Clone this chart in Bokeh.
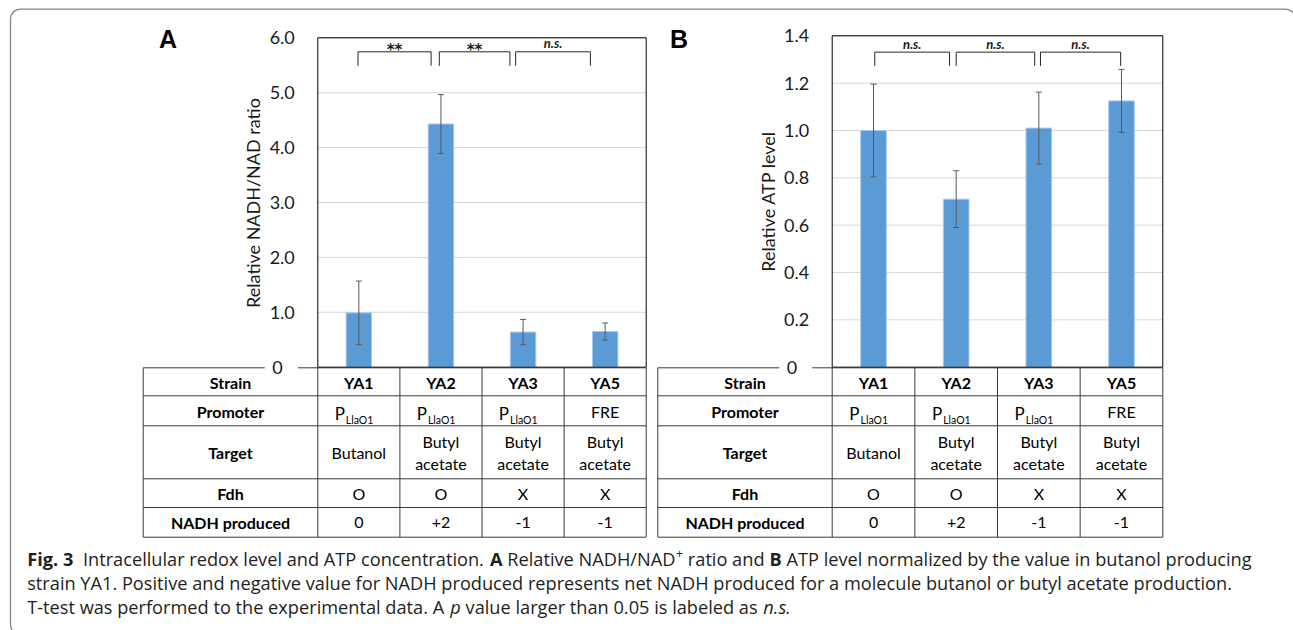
import math, os, subprocess
from bokeh.plotting import figure
from bokeh.models import Range1d
from bokeh.core.properties import value
from bokeh.embed import file_html
from bokeh.resources import INLINE

# ---------------- data ----------------
strains = ["YA1", "YA2", "YA3", "YA5"]
nadh_ratio = [0.99, 4.43, 0.64, 0.65]
nadh_sd = [0.58, 0.535, 0.23, 0.155]
atp_level = [1.00, 0.71, 1.01, 1.125]
atp_sd = [0.196, 0.12, 0.152, 0.133]
nadh_ticks = [0, 1, 2, 3, 4, 5, 6]
nadh_tick_labels = ["0", "1.0", "2.0", "3.0", "4.0", "5.0", "6.0"]
atp_ticks = [0, 0.2, 0.4, 0.6, 0.8, 1.0, 1.2, 1.4]
atp_tick_labels = ["0", "0.2", "0.4", "0.6", "0.8", "1.0", "1.2", "1.4"]
nadh_significance = ["**", "**", "n.s."]
atp_significance = ["n.s.", "n.s.", "n.s."]
row_headers = ["Strain", "Promoter", "Target", "Fdh", "NADH produced"]
promoter = ["P", "P", "P", "FRE"]
promoter_sub = ["LlaO1", "LlaO1", "LlaO1", ""]
target = ["Butanol", "Butyl acetate", "Butyl acetate", "Butyl acetate"]
fdh = ["O", "O", "X", "X"]
nadh_produced = ["0", "+2", "-1", "-1"]

caption_lines = [
    [("Fig. 3", "bold"), ("  ", "gap"), ("Intracellular redox level and ATP concentration.", "normal"), (" ", "gap"),
     ("A", "bold"), (" ", "gap"), ("Relative NADH/NAD", "normal"), ("+", "sup"), (" ", "gap"),
     ("ratio and", "normal"), (" ", "gap"), ("B", "bold"), (" ", "gap"),
     ("ATP level normalized by the value in butanol producing", "normal")],
    [("strain YA1. Positive and negative value for NADH produced represents net NADH produced for a molecule butanol or butyl acetate production.", "normal")],
    [("T-test was performed to the experimental data. A", "normal"), (" ", "gap"), ("p", "italic"), (" ", "gap"),
     ("value larger than 0.05 is labeled as", "normal"), (" ", "gap"), ("n.s.", "italic")],
]

# ---------------- layout (reference pixel coordinates) ----------------
W, H = 1293, 630
OX, OY = 0, 0
FRAME_A = (317.3, 645.7, 37.3, 366.7)   # left, right, top, bottom
FRAME_B = (831.7, 1162.3, 35.3, 366.7)
TABLE_LEFT_A, TABLE_LEFT_B = 142.7, 657.3
ROW_EDGES = [367.3, 395.3, 425.3, 478.3, 507.0, 536.7]
BRACKETS_A = dict(x=[(0.49, 1.38), (1.48, 2.34), (2.41, 3.32)], top=5.745, leg=5.49)
BRACKETS_B = dict(x=[(0.515, 1.42), (1.50, 2.45), (2.52, 3.49)], top=1.331, leg=1.273)

CHART_FONT = "Lato"
CAP_FONT = "Open Sans"
BLUE = "#5B9BD5"
TXT = "#1a1a1a"
TABLE_LINE = "#3a3a3a"

p = figure(width=W, height=H, x_range=Range1d(OX, OX + W), y_range=Range1d(OY + H, OY),
           output_backend="svg", toolbar_location=None, min_border=0,
           x_axis_location=None, y_axis_location=None,
           outline_line_color=None, background_fill_color="white", border_fill_color="white")
p.grid.visible = False

# outer rounded frame
p.quad(left=[10], right=[1295], top=[8.6], bottom=[634], border_radius=10,
       fill_color=None, line_color="#858585", line_width=1.3)


def draw_panel(name, frame, vals, sds, ticks, tick_labels, sig, br, ytitle, ytitle_xy,
               letter, letter_xy, table_left):
    L, R, T, B = frame
    n = len(strains)
    ymax = ticks[-1]
    kx = (R - L) / n
    ky = (B - T) / ymax
    p.extra_x_ranges[name] = Range1d(-(L - OX) / kx, n + (OX + W - R) / kx)
    p.extra_y_ranges[name] = Range1d(-(OY + H - B) / ky, (B - OY) / ky)
    rn = dict(x_range_name=name, y_range_name=name)
    xc = [i + 0.5 for i in range(n)]

    # grid lines
    p.segment(x0=[0] * len(ticks), x1=[n] * len(ticks), y0=ticks, y1=ticks,
              line_color="#D9D9D9", line_width=1, **rn)
    # bars
    p.vbar(x=xc, top=vals, bottom=0, width=0.31, fill_color=BLUE,
           line_color="#A8C8EC", line_width=1, **rn)
    # error bars
    lo = [v - s for v, s in zip(vals, sds)]
    hi = [v + s for v, s in zip(vals, sds)]
    p.segment(x0=xc, x1=xc, y0=lo, y1=hi, line_color="#595959", line_width=1, **rn)
    cap = 3.0 / kx
    p.segment(x0=[x - cap for x in xc] * 2, x1=[x + cap for x in xc] * 2, y0=lo + hi, y1=lo + hi,
              line_color="#595959", line_width=1, **rn)
    # plot area box
    p.quad(left=[0], right=[n], bottom=[0], top=[ymax], fill_color=None,
           line_color="black", line_width=1, **rn)

    # y tick labels
    offs = [-12 if lab == "0" else 0 for lab in tick_labels]
    p.text(x=[L - 23] * len(ticks), y=ticks, text=tick_labels, x_offset=offs,
           y_range_name=name, text_align="right", text_baseline="middle",
           text_font=value(CHART_FONT), text_font_size="18px", text_color=TXT)
    # y title
    p.text(x=[ytitle_xy[0]], y=[ytitle_xy[1]], text=[ytitle], angle=math.pi / 2,
           text_align="center", text_baseline="middle",
           text_font=value(CHART_FONT), text_font_size="18px", text_color=TXT)
    # panel letter
    p.text(x=[letter_xy[0]], y=[letter_xy[1]], text=[letter], text_align="center",
           text_baseline="middle", text_font=value("Liberation Sans"), text_font_style="bold",
           text_font_size="25px", text_color="black")

    # significance brackets
    xs, ys, mx = [], [], []
    for (a, b) in br["x"]:
        xs.append([a, a, b, b])
        ys.append([br["leg"], br["top"], br["top"], br["leg"]])
        mx.append((a + b) / 2)
    p.multi_line(xs=xs, ys=ys, line_color="#262626", line_width=1, **rn)
    star = [i for i, s in enumerate(sig) if "*" in s]
    other = [i for i, s in enumerate(sig) if "*" not in s]
    if star:
        p.text(x=[mx[i] for i in star], y=[br["top"]] * len(star), text=[sig[i] for i in star],
               y_offset=-1.5, text_align="center", text_baseline="middle",
               text_font=value("DejaVu Sans"), text_font_style="bold italic",
               text_font_size="15px", text_color=TXT, **rn)
    if other:
        p.text(x=[mx[i] for i in other], y=[br["top"]] * len(other), text=[sig[i] for i in other],
               y_offset=-8.5, text_align="center", text_baseline="middle",
               text_font=value(CHART_FONT), text_font_style="bold italic",
               text_font_size="13px", text_color=TXT, **rn)

    # ---------------- table ----------------
    top = ROW_EDGES[0]
    zero_gap = (L - 53, L - 20)
    p.segment(x0=[table_left, zero_gap[1]], x1=[zero_gap[0], R], y0=[top, top], y1=[top, top],
              line_color=TABLE_LINE, line_width=1)
    rows = ROW_EDGES[1:]
    p.segment(x0=[table_left] * len(rows), x1=[R] * len(rows), y0=rows, y1=rows,
              line_color=TABLE_LINE, line_width=1)
    p.segment(x0=[table_left], x1=[table_left], y0=[ROW_EDGES[0]], y1=[ROW_EDGES[-1]],
              line_color=TABLE_LINE, line_width=1)
    p.segment(x0=list(range(n + 1)), x1=list(range(n + 1)), y0=[ROW_EDGES[0]] * (n + 1),
              y1=[ROW_EDGES[-1]] * (n + 1), x_range_name=name, line_color=TABLE_LINE, line_width=1)

    centers = [(ROW_EDGES[i] + ROW_EDGES[i + 1]) / 2 + 0.5 for i in range(len(ROW_EDGES) - 1)]
    hx = (table_left + L) / 2
    tf = dict(text_font=value(CHART_FONT), text_font_size="16px", text_color="black",
              text_align="center", text_baseline="middle")
    p.text(x=[hx] * len(row_headers), y=centers, text=row_headers, text_font_style="bold", **tf)
    p.text(x=xc, y=[centers[0]] * n, text=strains, text_font_style="bold", x_range_name=name, **tf)
    # promoter: P with subscript
    sub_x = [x for x, s in zip(xc, promoter_sub) if s]
    p.text(x=sub_x, y=[413.0] * len(sub_x), text=[m for m, s in zip(promoter, promoter_sub) if s],
           x_offset=-14, x_range_name=name, text_font=value(CHART_FONT), text_font_size="17px",
           text_color="black", text_align="right", text_baseline="middle")
    p.text(x=sub_x, y=[419.5] * len(sub_x), text=[s for s in promoter_sub if s],
           x_offset=-13, x_range_name=name, text_font=value(CHART_FONT), text_font_size="10.5px",
           text_color="black", text_align="left", text_baseline="middle")
    plain_x = [x for x, s in zip(xc, promoter_sub) if not s]
    p.text(x=plain_x, y=[centers[1]] * len(plain_x), text=[m for m, s in zip(promoter, promoter_sub) if not s],
           x_range_name=name, **tf)
    # target
    one_x = [x for x, t in zip(xc, target) if " " not in t]
    p.text(x=one_x, y=[452.0] * len(one_x), text=[t for t in target if " " not in t], x_range_name=name, **tf)
    two = [(x, t.split(" ", 1)) for x, t in zip(xc, target) if " " in t]
    p.text(x=[x for x, _ in two], y=[441.0] * len(two), text=[t[0] for _, t in two], x_range_name=name, **tf)
    p.text(x=[x for x, _ in two], y=[463.0] * len(two), text=[t[1] for _, t in two], x_range_name=name, **tf)
    p.text(x=xc, y=[centers[3]] * n, text=fdh, x_range_name=name, **tf)
    p.text(x=xc, y=[centers[4]] * n, text=nadh_produced, x_range_name=name, **tf)


draw_panel("A", FRAME_A, nadh_ratio, nadh_sd, nadh_ticks, nadh_tick_labels, nadh_significance,
           BRACKETS_A, "Relative NADH/NAD ratio", (252.7, 202.5), "A", (167.5, 38.5), TABLE_LEFT_A)
draw_panel("B", FRAME_B, atp_level, atp_sd, atp_ticks, atp_tick_labels, atp_significance,
           BRACKETS_B, "Relative ATP level", (767.0, 200.8), "B", (678.5, 38.5), TABLE_LEFT_B)


# ---------------- caption ----------------
_font_cache = {}


def _font_file(style):
    key = {"normal": "Regular", "bold": "Bold", "italic": "Italic", "sup": "Regular", "gap": "Regular"}[style]
    if key in _font_cache:
        return _font_cache[key]
    path = None
    try:
        out = subprocess.run(["fc-match", "-f", "%{file}", f"{CAP_FONT}:style={key}"],
                             capture_output=True, text=True, timeout=5).stdout.strip()
        if out and os.path.exists(out):
            path = out
    except Exception:
        path = None
    _font_cache[key] = (path, key)
    return _font_cache[key]


def text_width(s, style, size):
    path, key = _font_file(style)
    if path:
        try:
            from PIL import ImageFont
            f = ImageFont.truetype(path, max(1, int(round(size * 4))))
            try:
                f.set_variation_by_name(key)
            except Exception:
                pass
            return f.getlength(s) / 4.0
        except Exception:
            pass
    return len(s) * size * 0.5


CAP_X0 = 26.7
CAP_LINE2_END = 1233.0
ref = caption_lines[1][0][0]
cap_size = 20 * (CAP_LINE2_END - CAP_X0) / max(1.0, text_width(ref, "normal", 20))
cap_size = min(max(cap_size, 14.0), 20.0)
baselines = [566.0, 590.0, 613.5]

for line, yb in zip(caption_lines, baselines):
    x = CAP_X0
    ym = yb - 0.388 * cap_size
    for txt, style in line:
        if style == "gap":
            x += text_width(txt, "normal", cap_size)
            continue
        size = cap_size * (0.68 if style == "sup" else 1.0)
        fs = {"normal": "normal", "bold": "bold", "italic": "italic", "sup": "normal"}[style]
        p.text(x=[x], y=[ym], text=[txt], y_offset=(-0.3 * cap_size if style == "sup" else 0),
               text_align="left", text_baseline="middle", text_font=value(CAP_FONT),
               text_font_style=fs, text_font_size=f"{size:.2f}px", text_color="#231f20")
        x += text_width(txt, style, size)

open("out.html", "w").write(file_html(p, INLINE))
